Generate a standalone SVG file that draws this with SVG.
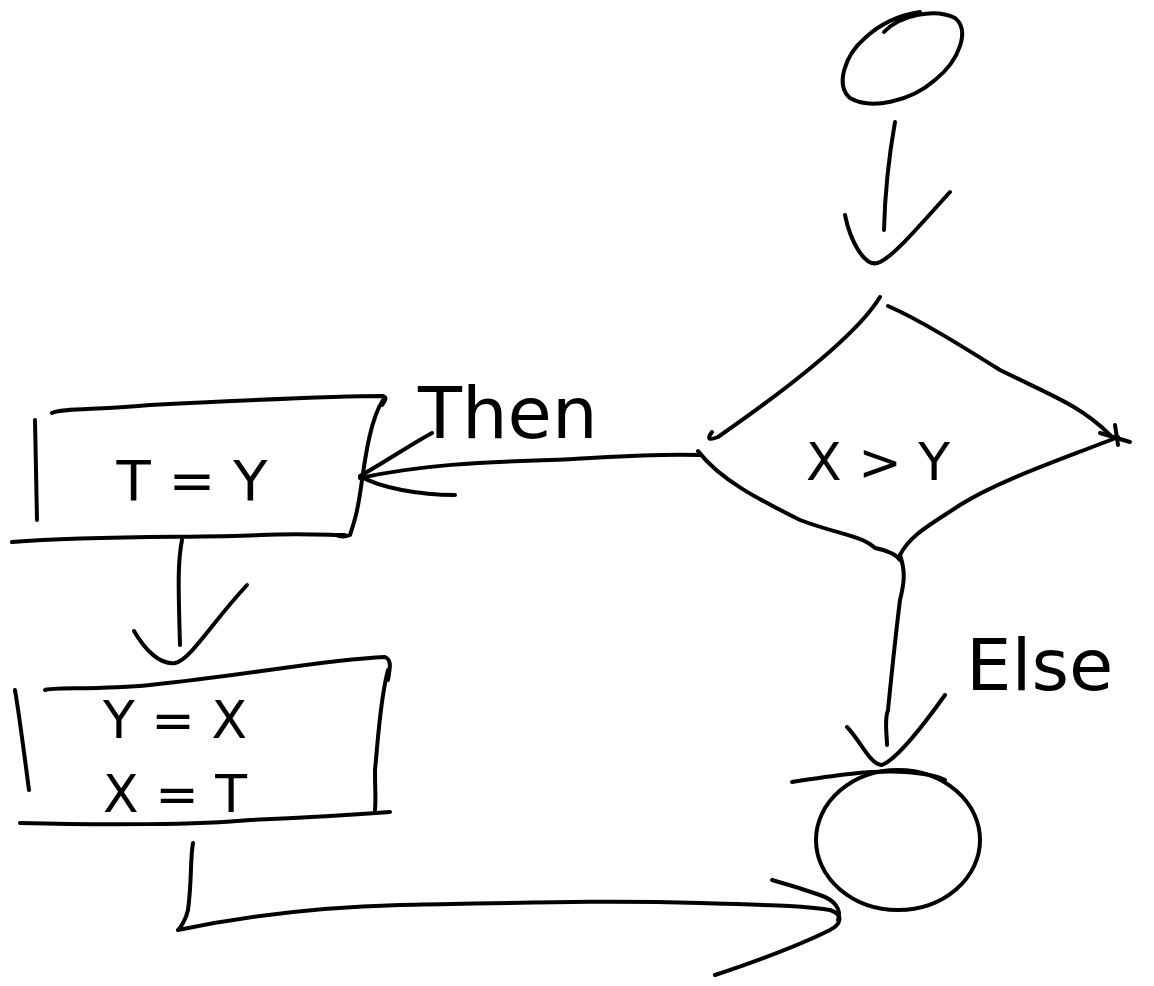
<svg xmlns="http://www.w3.org/2000/svg" width="1154" height="986" viewBox="0 0 1154 986">
<style>
.s{fill:none;stroke:#000;stroke-width:4;stroke-linecap:round;stroke-linejoin:round}
.t{font-family:"DejaVu Sans",sans-serif;fill:#000;font-weight:normal}
</style>
<rect width="1154" height="986" fill="#fff"/>
<g id="start">
<path class="s" d="M884,32 C900,15 935,8 955,18 C970,30 960,60 935,80 C910,102 870,110 850,98 C835,85 845,55 865,38 C880,24 900,15 920,12"/>
</g>
<g id="decision">
<path class="s" d="M880,297 C860,330 800,380 718,437 C710,440 706,440 712,432"/>
<path class="s" d="M888,306 C920,320 960,345 1000,370 C1050,395 1080,405 1110,435"/>
<path class="s" d="M1100,433 L1130,442 M1115,425 L1118,445"/>
<path class="s" d="M1118,437 C1060,460 1000,480 960,505 C930,525 910,535 900,555"/>
<path class="s" d="M698,451 C720,480 760,500 800,520 C840,535 860,535 875,548 C885,550 895,553 900,560"/>
<text class="t" x="878" y="480" font-size="52" text-anchor="middle">X &gt; Y</text>
</g>
<g id="box1">
<path class="s" d="M52,413 C60,408 100,410 150,405 C250,400 330,396 383,396 C388,398 384,402 382,405"/>
<path class="s" d="M383,400 C370,420 365,460 362,480 C358,510 355,520 350,535 C345,537 340,537 336,535"/>
<path class="s" d="M35,420 L37,520"/>
<path class="s" d="M12,542 C100,535 200,538 260,535 C300,533 330,535 345,535"/>
<text class="t" x="192" y="500" font-size="56" text-anchor="middle">T = Y</text>
</g>
<g id="box2">
<path class="s" d="M45,690 C50,687 100,690 150,685 C250,675 320,660 385,657 C392,660 390,668 388,680"/>
<path class="s" d="M388,670 C380,700 378,740 375,770 C375,790 376,800 375,810"/>
<path class="s" d="M15,690 C20,720 25,760 29,790"/>
<path class="s" d="M20,823 C100,825 200,825 250,820 C300,818 350,815 390,812"/>
<text class="t" x="175" y="738" font-size="52" text-anchor="middle">Y = X</text>
<text class="t" x="175" y="812" font-size="52" text-anchor="middle">X = T</text>
</g>
<g id="end">
<ellipse class="s" cx="898" cy="840" rx="82" ry="70"/>
<path class="s" d="M792,782 C830,776 870,770 905,772 C920,773 935,775 945,780"/>
</g>
<g id="connectors">
<path class="s" d="M895,122 C890,150 885,190 884,230"/>
<path class="s" d="M845,215 C850,240 865,270 880,262 C895,255 920,225 950,192"/>
<path class="s" d="M700,455 C650,453 600,458 550,460 C480,462 420,465 360,478"/>
<path class="s" d="M432,433 C410,445 385,462 360,476 C380,488 420,495 455,495"/>
<path class="s" d="M182,540 C178,560 178,580 180,645"/>
<path class="s" d="M134,631 C145,650 160,665 175,663 C190,660 210,625 247,585"/>
<path class="s" d="M900,555 C905,570 905,580 900,600 C895,640 890,690 888,710 C884,720 887,735 887,745"/>
<path class="s" d="M847,727 C860,740 870,765 882,765 C895,760 920,730 945,695"/>
<path class="s" d="M193,843 C190,860 192,880 188,910 C186,920 180,928 178,930 C250,915 320,907 400,905 C520,903 600,900 700,903 C760,905 800,905 830,910 C845,915 840,925 830,930 C800,945 760,960 715,975"/>
<path class="s" d="M772,880 C790,885 800,888 820,895 C835,900 842,910 838,920"/>
<text class="t" x="418" y="438" font-size="72">Then</text>
<text class="t" x="966" y="690" font-size="72">Else</text>
</g>
</svg>
